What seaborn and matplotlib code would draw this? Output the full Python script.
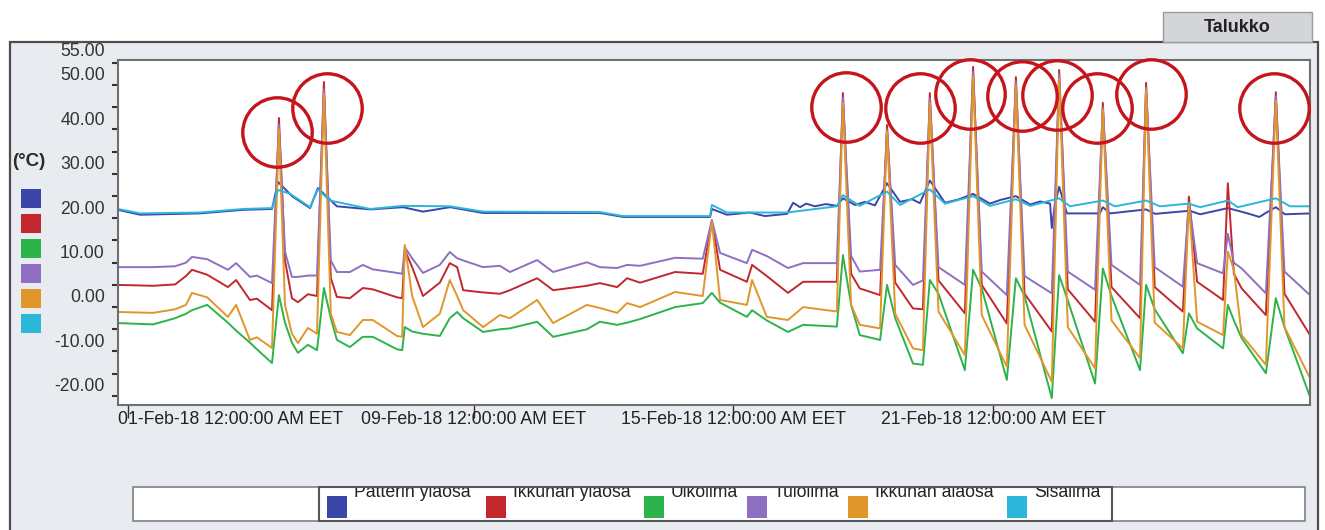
import numpy as np
import pandas as pd
import matplotlib
matplotlib.use("Agg")
import matplotlib.pyplot as plt
import matplotlib.dates as mdates
from matplotlib.patches import Rectangle
from matplotlib.transforms import ScaledTranslation, offset_copy
import seaborn as sns

# ---------------------------------------------------------------------------
# Data: temperatures (deg C), time in days since 01-Feb-2018 00:00
# ---------------------------------------------------------------------------
series_names = ["Patterin yläosa", "Ikkunan yläosa", "Ulkoilma",
                "Tuloilma", "Ikkunan alaosa", "Sisäilma"]
series_colors = ["#3b46a9", "#c3272e", "#2db34b", "#8e6fc2", "#e0962b", "#2cb6da"]

# shared sampling for window, supply air and outdoor sensors
t_days = [-0.23, 0.58, 1.09, 1.34, 1.48, 1.83, 2.31, 2.50, 2.82, 2.98,
          3.33, 3.49, 3.63, 3.79, 3.93, 4.16, 4.37, 4.53, 4.69, 4.83,
          5.13, 5.43, 5.66, 6.22, 6.34, 6.40, 6.57, 6.82, 7.21, 7.44,
          7.61, 7.75, 8.21, 8.60, 8.83, 9.46, 9.83, 10.61, 10.91, 11.31,
          11.54, 11.84, 12.65, 13.29, 13.50, 13.69, 14.31, 14.43, 14.77, 15.26,
          15.61, 16.39, 16.53, 16.72, 16.92, 17.39, 17.55, 17.74, 18.15, 18.38,
          18.54, 18.74, 19.35, 19.54, 19.74, 20.32, 20.53, 20.73, 21.36, 21.53,
          21.73, 22.36, 22.54, 22.74, 23.40, 23.54, 23.74, 24.39, 24.53, 24.72,
          25.32, 25.43, 25.57, 25.75, 26.31, 26.54, 26.74, 27.33]

tuloilma = [6.5, 6.5, 6.7, 7.5, 8.8, 8.3, 5.9, 7.4, 4.3, 4.6,
            2.9, 38.5, 10.0, 4.3, 4.3, 4.6, 4.6, 46.5, 8.0, 5.4,
            5.4, 7.0, 6.0, 5.2, 5.0, 11.0, 8.5, 5.2, 7.0, 9.9,
            8.5, 8.0, 6.5, 6.8, 5.4, 8.1, 5.4, 7.6, 6.5, 6.3,
            7.0, 6.8, 8.6, 8.4, 17.1, 9.7, 7.4, 10.4, 9.0, 6.3,
            7.4, 7.4, 44.7, 9.0, 5.5, 5.9, 37.5, 7.0, 2.5, 3.5,
            44.5, 6.5, 2.5, 50.5, 5.5, 0.2, 48.3, 4.5, 0.6, 50.0,
            5.5, 1.4, 42.5, 7.0, 2.5, 47.0, 6.5, 2.1, 21.0, 7.4,
            5.1, 14.0, 7.5, 6.2, 0.6, 45.0, 5.5, 0.2]

ikkuna_ylaosa = [2.5, 2.3, 2.6, 4.5, 5.9, 4.8, 2.0, 3.6, -0.9, -0.6,
                 -3.2, 40.1, 8.0, -0.5, -1.4, 0.4, 0.0, 48.2, 4.0, -0.2,
                 -0.5, 1.8, 1.5, -0.3, -0.5, 10.4, 6.5, 0.0, 3.0, 7.4,
                 6.5, 1.3, 0.8, 0.5, 1.3, 4.0, 1.3, 2.3, 2.9, 2.0,
                 4.0, 3.0, 5.4, 5.0, 17.0, 5.9, 3.2, 7.0, 4.5, 0.7,
                 3.2, 3.2, 45.7, 5.0, 1.7, 0.2, 38.5, 3.0, -2.8, -3.0,
                 45.7, 3.5, -3.9, 51.6, 2.5, -6.2, 49.3, 0.5, -8.0, 50.9,
                 1.5, -5.8, 43.5, 2.0, -5.0, 48.0, 2.0, -3.5, 22.4, 3.2,
                 -0.9, 25.4, 5.0, 1.7, -4.3, 45.9, 0.5, -8.8]

ikkuna_alaosa = [-3.6, -3.8, -3.0, -2.0, 0.7, -0.3, -4.7, -2.0, -9.9, -9.3,
                 -11.7, 37.5, -2.0, -8.5, -10.6, -7.2, -8.5, 45.5, -4.0, -8.1,
                 -8.8, -5.4, -5.4, -9.0, -9.2, 11.5, 0.0, -7.0, -4.0, 3.6,
                 0.0, -3.2, -7.0, -4.3, -5.0, -0.9, -6.1, -2.0, -2.7, -3.8,
                 -1.6, -2.5, 0.9, 0.0, 16.7, -0.9, -2.0, 3.6, -4.7, -5.4,
                 -2.5, -3.5, 43.5, -2.0, -6.5, -7.3, 37.0, -4.0, -11.8, -12.2,
                 43.5, -3.5, -13.3, 49.5, -4.3, -15.9, 47.3, -6.5, -19.3, 49.0,
                 -7.0, -16.3, 42.0, -5.5, -14.0, 46.5, -6.0, -11.8, 21.0, -5.8,
                 -8.8, 10.0, 6.0, -8.8, -15.5, 44.0, -7.0, -18.5]

ulkoilma = [-6.1, -6.4, -5.0, -4.0, -3.2, -2.0, -6.0, -7.8, -10.5, -12.0,
            -15.1, 0.2, -6.0, -10.5, -12.8, -11.0, -12.2, 1.8, -5.0, -9.9,
            -11.5, -9.2, -9.2, -12.0, -12.2, -7.0, -8.0, -8.5, -9.0, -5.0,
            -3.6, -5.0, -8.1, -7.5, -7.3, -5.8, -9.2, -7.5, -5.8, -6.5,
            -6.0, -5.2, -2.5, -1.6, 0.7, -1.5, -4.7, -3.2, -5.5, -8.1,
            -6.5, -6.9, 9.2, -2.0, -8.8, -9.9, 2.5, -5.0, -15.2, -15.5,
            3.6, 0.5, -16.7, 5.9, 1.7, -18.9, 4.0, 0.0, -23.0, 4.7,
            -1.0, -19.7, 6.2, 0.0, -16.7, 2.5, -3.0, -12.9, -3.9, -7.3,
            -11.8, -2.0, -5.5, -9.5, -17.4, -0.5, -7.0, -22.7]

# radiator top sensor
t_patteri = [-0.23, 0.28, 1.66, 2.66, 3.33, 3.47, 3.79, 4.21, 4.39, 4.83,
             5.60, 6.36, 6.82, 7.45, 8.21, 10.06, 10.91, 11.45, 13.46, 13.50,
             13.85, 14.38, 14.73, 15.24, 15.38, 15.54, 15.68, 15.88, 16.14, 16.39,
             16.53, 16.81, 17.04, 17.27, 17.55, 17.85, 18.13, 18.31, 18.54, 18.89,
             19.19, 19.54, 19.93, 20.16, 20.53, 20.86, 21.09, 21.32, 21.36, 21.43,
             21.53, 21.71, 22.47, 22.54, 22.71, 23.54, 23.75, 24.55, 24.79, 25.43,
             25.89, 26.16, 26.29, 26.54, 26.75, 27.33]
patteri = [19.4, 18.3, 18.6, 19.4, 19.6, 25.7, 22.5, 19.8, 24.3, 20.2,
           19.5, 20.0, 19.0, 20.0, 18.7, 18.7, 18.7, 17.8, 17.8, 19.6,
           18.3, 18.8, 18.0, 18.5, 21.0, 20.0, 20.8, 20.2, 20.7, 20.3,
           22.0, 20.5, 21.2, 20.4, 25.4, 21.2, 21.8, 20.9, 26.0, 21.0,
           21.7, 23.0, 20.8, 21.6, 22.5, 20.6, 21.3, 20.8, 15.3, 20.5,
           24.6, 18.6, 18.6, 20.0, 18.6, 19.5, 18.5, 19.2, 18.4, 19.8,
           18.6, 17.8, 18.6, 20.0, 18.4, 18.6]

# indoor air
t_sisa = [-0.23, 0.28, 1.66, 2.66, 3.33, 3.47, 3.75, 4.21, 4.39, 4.67,
          5.60, 6.36, 7.45, 8.21, 10.91, 11.45, 13.46, 13.50, 13.85, 15.24,
          16.39, 16.53, 16.92, 17.55, 17.85, 18.54, 18.89, 19.54, 19.93, 20.53,
          20.86, 21.53, 21.78, 22.54, 22.82, 23.54, 23.86, 24.53, 24.79, 25.43,
          25.66, 26.54, 26.87, 27.33]
sisa = [19.6, 18.6, 18.8, 19.6, 19.8, 23.9, 23.0, 20.0, 24.0, 21.5,
        19.6, 20.3, 20.2, 19.0, 18.9, 18.0, 18.0, 20.5, 18.8, 18.8,
        20.2, 22.7, 20.3, 23.5, 20.5, 24.0, 20.8, 22.5, 20.3, 21.8,
        20.3, 22.0, 20.2, 21.5, 20.2, 21.5, 20.2, 20.8, 20.0, 21.5,
        20.0, 22.0, 20.2, 20.2]

# peaks marked with a red ring
circled_peaks = [3.49, 4.53, 16.53, 18.54, 19.54, 20.53, 21.53, 22.54, 23.54, 26.54]

y_label_values = [50, 40, 30, 20, 10, 0, -10, -20]
x_tick_dates = ["2018-02-01", "2018-02-09", "2018-02-15", "2018-02-21"]
x_tick_labels = ["01-Feb-18 12:00:00 AM EET", "09-Feb-18 12:00:00 AM EET",
                 "15-Feb-18 12:00:00 AM EET", "21-Feb-18 12:00:00 AM EET"]

# ---------------------------------------------------------------------------
start = pd.Timestamp("2018-02-01")


def to_time(days):
    return start + pd.to_timedelta(np.asarray(days, dtype=float), unit="D")


frames = [
    pd.DataFrame({"time": to_time(t_patteri), "temp": patteri, "series": series_names[0]}),
    pd.DataFrame({"time": to_time(t_days), "temp": ikkuna_ylaosa, "series": series_names[1]}),
    pd.DataFrame({"time": to_time(t_days), "temp": ulkoilma, "series": series_names[2]}),
    pd.DataFrame({"time": to_time(t_days), "temp": tuloilma, "series": series_names[3]}),
    pd.DataFrame({"time": to_time(t_days), "temp": ikkuna_alaosa, "series": series_names[4]}),
    pd.DataFrame({"time": to_time(t_sisa), "temp": sisa, "series": series_names[5]}),
]
df = pd.concat(frames, ignore_index=True)

sns.set_theme(style="white")
plt.rcParams["font.family"] = ["Liberation Sans", "DejaVu Sans"]

W, H = 1325, 530
PANEL = "#e8ebef"
fig = plt.figure(figsize=(W / 100, H / 100), dpi=100)
fig.patch.set_facecolor("white")


def fx(x):
    return x / W


def fy(y):
    return 1 - y / H


def box(x0, y0, x1, y1, **kw):
    r = Rectangle((fx(x0), fy(y1)), fx(x1) - fx(x0), fy(y0) - fy(y1),
                  transform=fig.transFigure, **kw)
    fig.add_artist(r)
    return r


# window frame and tab
box(10, 42, 1318, 545, facecolor=PANEL, edgecolor="#4d4d4d", lw=1.6, zorder=-2)
box(1163, 12, 1312, 42, facecolor="#d3d5d9", edgecolor="#9c9c9c", lw=1.0, zorder=-1)
fig.text(fx(1237), fy(27), "Talukko", ha="center", va="center",
         fontsize=13, fontweight="bold", color="#222222")

# plot area
ax = fig.add_axes([fx(118), fy(405), fx(1310) - fx(118), fy(60) - fy(405)])
ax.set_facecolor("white")

sns.lineplot(data=df, x="time", y="temp", hue="series", hue_order=series_names,
             palette=series_colors, estimator=None, sort=False, linewidth=1.4,
             legend=False, ax=ax)

ax.set_xlim((start + pd.Timedelta(days=-0.231)).to_pydatetime(),
            (start + pd.Timedelta(days=27.33)).to_pydatetime())
ax.set_ylim(-24.55, 53.15)
ax.set_xlabel("")
ax.set_ylabel("")

for s in ax.spines.values():
    s.set_color("#6f6f6f")
    s.set_linewidth(1.5)

# y axis: labels every 10 degrees, marks every 5 degrees in between
ax.set_yticks(y_label_values)
ax.set_yticklabels([f"{v:.2f}" for v in y_label_values])
ax.set_yticks(np.arange(-22.5, 53.0, 5.0), minor=True)
ax.tick_params(axis="y", which="major", length=0, pad=9.5, labelsize=12.7,
               labelcolor="#333333")
ax.tick_params(axis="y", which="minor", length=4, width=1.5, color="#333333",
               direction="out", left=True)
ax.text(0, 55, "55.00", transform=offset_copy(ax.get_yaxis_transform(), fig=fig,
                                               x=-13, y=0, units="dots"),
        ha="right", va="center", fontsize=12.7, color="#333333", clip_on=False)

# x axis
ax.set_xticks([mdates.date2num(pd.Timestamp(d)) for d in x_tick_dates])
ax.set_xticklabels(x_tick_labels)
ax.tick_params(axis="x", which="major", length=9, width=1.0, color="#333333",
               direction="out", pad=-5, labelsize=12.7, labelcolor="#222222",
               bottom=True)
first = ax.get_xticklabels()[0]
first.set_horizontalalignment("left")
first.set_transform(first.get_transform() + ScaledTranslation(-10 / 100, 0, fig.dpi_scale_trans))

# red rings around the sun-driven peaks
ring_shift = [(-2, 14), (3, 26), (3, 14), (-10, 15), (-3, 27),
              (6, 19), (-2, 25), (-6, 5), (5, 11), (-2, 16)]
for day, (dx, dy) in zip(circled_peaks, ring_shift):
    i = t_days.index(day)
    tr = ax.transData + ScaledTranslation(dx / 100, -dy / 100, fig.dpi_scale_trans)
    ax.plot([mdates.date2num(to_time([day])[0])], [ikkuna_ylaosa[i]], marker="o",
            markersize=50, markerfacecolor="none", markeredgecolor="#c5141b",
            markeredgewidth=2.4, transform=tr, clip_on=False, zorder=5)

# unit label and colour keys at the left
fig.text(fx(12), fy(162), "(°C)", ha="left", va="center", fontsize=13.5,
         fontweight="bold", color="#2a2a2a")
for k, c in enumerate(series_colors):
    y0 = 189 + 25 * k
    box(21, y0, 41, y0 + 19, facecolor=c, edgecolor="none", zorder=2)

# legend strip at the bottom; names sit high so their tops are cut by the frame
box(133, 487, 1305, 521, facecolor="white", edgecolor="none", zorder=1)
key_x = [327, 486, 644, 747, 848, 1007]
for name, c, x0 in zip(series_names, series_colors, key_x):
    box(x0, 496, x0 + 20, 518, facecolor=c, edgecolor="none", zorder=3)
    fig.text(fx(x0 + 27), fy(497), name, ha="left", va="baseline",
             fontsize=12.7, color="#222222", zorder=3)
box(125, 470, 1310, 486.6, facecolor=PANEL, edgecolor="none", zorder=4)
box(133, 487, 1305, 521, facecolor="none", edgecolor="#8a8a8a", lw=1.3, zorder=5)
box(319, 487, 1112, 521, facecolor="none", edgecolor="#555555", lw=1.5, zorder=6)

fig.savefig("out.png", dpi=100, facecolor=fig.get_facecolor())
